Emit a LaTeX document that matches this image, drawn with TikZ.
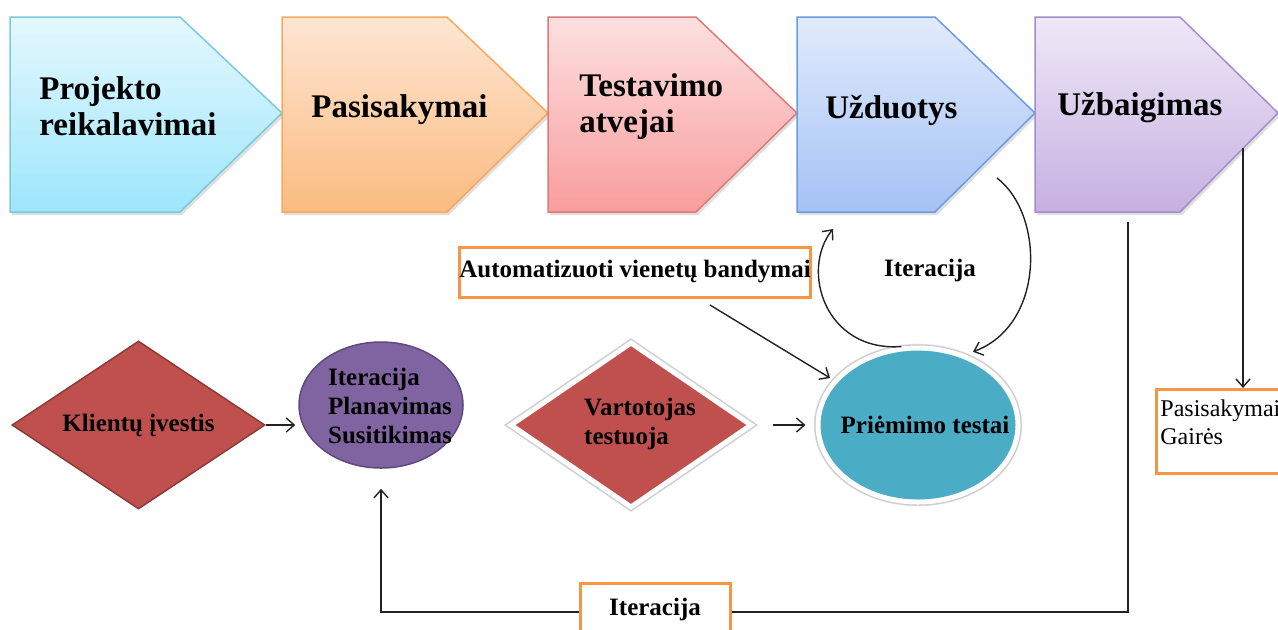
\documentclass[tikz,border=0pt]{standalone}
\usepackage{fontspec}
\setmainfont{Liberation Serif}
\usetikzlibrary{arrows.meta,shadows,shapes.geometric}

% stage colours
\definecolor{aTop}{HTML}{E4F8FE}\definecolor{aBot}{HTML}{9DE6FB}\definecolor{aLine}{HTML}{7DC8DC}
\definecolor{bTop}{HTML}{FEE6D3}\definecolor{bBot}{HTML}{FBBB80}\definecolor{bLine}{HTML}{F7A960}
\definecolor{cTop}{HTML}{FDE0E0}\definecolor{cBot}{HTML}{F99D9D}\definecolor{cLine}{HTML}{D97B7B}
\definecolor{dTop}{HTML}{E1EBFC}\definecolor{dBot}{HTML}{A4C2F5}\definecolor{dLine}{HTML}{6B9BE0}
\definecolor{eTop}{HTML}{EFE8F7}\definecolor{eBot}{HTML}{C6B0E1}\definecolor{eLine}{HTML}{A48DCB}
% other colours
\definecolor{redFill}{HTML}{C0504D}\definecolor{redLine}{HTML}{8C3A38}
\definecolor{violetFill}{HTML}{8064A2}\definecolor{violetLine}{HTML}{5E4A7A}
\definecolor{tealFill}{HTML}{4BACC6}
\definecolor{orangeLine}{HTML}{F79646}
\definecolor{ink}{HTML}{222222}

\begin{document}
\begin{tikzpicture}[x=0.5pt,y=-0.5pt,
  stagebox/.style={line width=0.75pt,
    drop shadow={opacity=0.25,shadow xshift=1pt,shadow yshift=-1.5pt}},
  stagetext/.style={font=\bfseries\fontsize{16.5}{18}\selectfont,align=left,inner sep=0pt,anchor=west},
  midtext/.style={font=\bfseries\fontsize{12.5}{14.5}\selectfont,align=left,inner sep=0pt},
  halo/.style={draw=white,line width=2.5pt,
    preaction={draw=black!12,line width=4.2pt},
    preaction={draw=black!22,line width=3.4pt}},
  notebox/.style={draw=orangeLine,line width=1.5pt,fill=white,inner sep=0pt},
  arr/.style={draw=ink,line width=0.7pt,-{Straight Barb[length=4pt,width=7pt]}}
]
\useasboundingbox (0,0) rectangle (1278,629);

% process stages along the top
\path[stagebox,draw=aLine,top color=aTop,bottom color=aBot]
  (10,17) -- (180,17) -- (282,113) -- (180,212) -- (10,212) -- cycle;
\path[stagebox,draw=bLine,top color=bTop,bottom color=bBot]
  (282,17) -- (447,17) -- (548,113) -- (447,212) -- (282,212) -- cycle;
\path[stagebox,draw=cLine,top color=cTop,bottom color=cBot]
  (548,17) -- (696,17) -- (797,113) -- (696,212) -- (548,212) -- cycle;
\path[stagebox,draw=dLine,top color=dTop,bottom color=dBot]
  (797,17) -- (935,17) -- (1035,113) -- (935,212) -- (797,212) -- cycle;
\path[stagebox,draw=eLine,top color=eTop,bottom color=eBot]
  (1035,17) -- (1180,17) -- (1278,113) -- (1180,212) -- (1035,212) -- cycle;

\node[stagetext] (s1) at (39,106) {Projekto\\reikalavimai};
\node[stagetext] (s2) at (311,110) {Pasisakymai};
\node[stagetext] (s3) at (579,107) {Testavimo\\atvejai};
\node[stagetext] (s4) at (825,110) {Užduotys};
\node[stagetext] (s5) at (1057,107) {Užbaigimas};

% lower shapes
\node[diamond,draw=redLine,line width=0.75pt,fill=redFill,inner sep=0pt,
      minimum width=126.5pt,minimum height=84pt] (kl) at (138.5,425) {};
\node[midtext] (kltext) at (kl.center) {Klientų įvestis};

\node[ellipse,draw=violetLine,line width=0.75pt,fill=violetFill,inner sep=0pt,
      minimum width=82pt,minimum height=63pt] (itp) at (381,405) {};
\node[midtext] (itptext) at (390,406) {Iteracija\\Planavimas\\Susitikimas};

\node[diamond,halo,fill=redFill,inner sep=0pt,
      minimum width=121pt,minimum height=83pt] (vt) at (631,425) {};
\node[midtext] (vttext) at (640,424) {Vartotojas\\testuoja};

\node[ellipse,halo,fill=tealFill,inner sep=0pt,
      minimum width=100pt,minimum height=77pt] (pt) at (918,425) {};
\node[midtext] (pttext) at (925,425) {Priėmimo testai};

% labels
\node[notebox,minimum width=175pt,minimum height=25pt,font=\bfseries\fontsize{12.5}{14.5}\selectfont]
  (au) at (635,272) {Automatizuoti vienetų bandymai};
\node[midtext] (itl) at (930,270) {Iteracija};
\node[notebox,anchor=north west,minimum width=70pt,minimum height=42pt] (pg) at (1155,388) {};
\node[font=\fontsize{12}{14}\selectfont,align=left,inner sep=0pt,anchor=north west]
  (pgtext) at (1160,399) {Pasisakymai\\Gairės};

% connector end points
\coordinate (auout) at (710,305);
\coordinate (uzin) at (833,229);
\coordinate (uzout) at (997,178);
\coordinate (ubdown) at (1128,222);
\coordinate (ubright) at (1243,148);
\coordinate (loopbase) at (381,612);

% connectors
\draw[arr,shorten >=1.5pt] (kl.east) -- (itp.west |- kl.east);
\draw[arr,shorten <=9pt,shorten >=5pt] (vt.east) -- (pt.west);
\draw[arr,shorten >=2pt] (auout) -- (pt.152);
\draw[arr] (pt.102) .. controls (825,352) and (800,270) .. (uzin);
\draw[arr,shorten >=4pt] (uzout) .. controls (1045,215) and (1045,325) .. (pt.56);
\draw[arr] (ubright) -- (ubright |- pg.north);
\draw[arr,shorten >=10pt] (ubdown) |- (loopbase) -- (itp.south);

\node[notebox,minimum width=75pt,minimum height=26pt,font=\bfseries\fontsize{12.5}{14.5}\selectfont]
  (itb) at (655,609) {Iteracija};
\end{tikzpicture}
\end{document}
